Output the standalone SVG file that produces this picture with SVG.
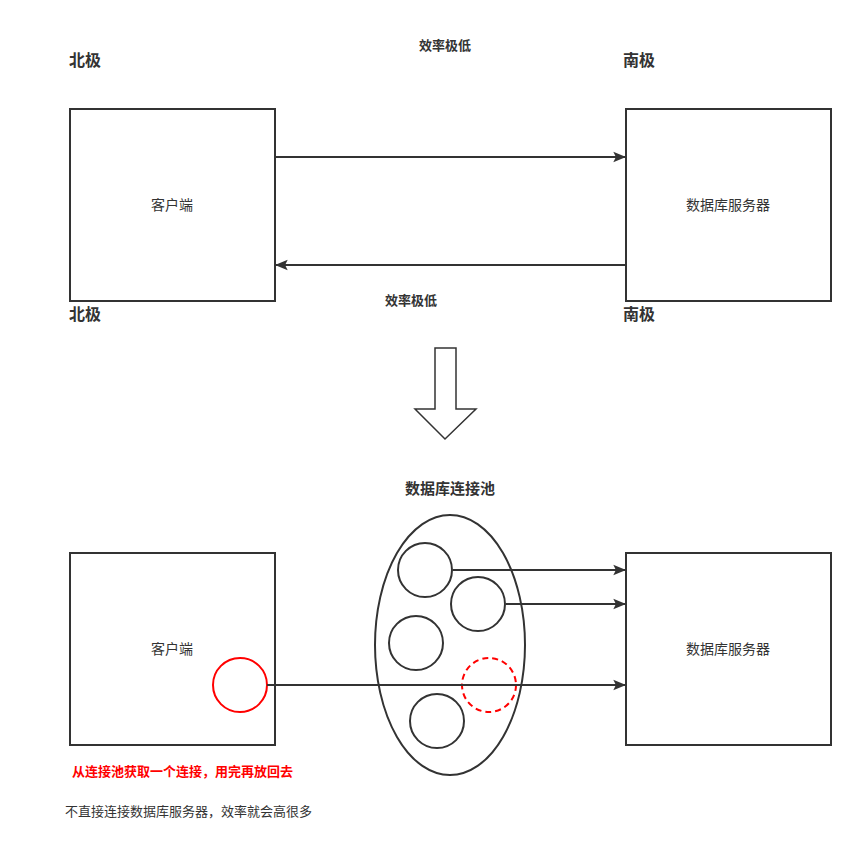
<svg xmlns="http://www.w3.org/2000/svg" width="856" height="866" viewBox="0 0 856 866">
<defs>
<style>
.box{fill:#fff;stroke:#333;stroke-width:2}
.ln{stroke:#333;stroke-width:2;fill:none}
text{font-family:"Noto Sans CJK SC","Liberation Sans",sans-serif;fill:#333}
.b{font-weight:bold}
</style>
<marker id="ah" viewBox="0 0 10 10" refX="9" refY="5" markerWidth="13" markerHeight="13" orient="auto" markerUnits="userSpaceOnUse"><path d="M0,1 L10,5 L0,9 L2,5 Z" fill="#333"/></marker>
</defs>
<rect width="856" height="866" fill="#fff"/>
<g id="labels">
<text x="69" y="66" font-size="16" class="b">北极</text>
<text x="623" y="66" font-size="16" class="b">南极</text>
<text x="69" y="320" font-size="16" class="b">北极</text>
<text x="623" y="320" font-size="16" class="b">南极</text>
<text x="445" y="50" font-size="13" class="b" text-anchor="middle">效率极低</text>
<text x="411" y="305" font-size="13" class="b" text-anchor="middle">效率极低</text>
<text x="450" y="494" font-size="15" class="b" text-anchor="middle">数据库连接池</text>
<text x="72" y="776" font-size="13" class="b" style="fill:#f00">从连接池获取一个连接，用完再放回去</text>
<text x="65" y="816" font-size="13">不直接连接数据库服务器，效率就会高很多</text>
</g>
<g id="client1"><rect class="box" x="70" y="109" width="205" height="192"/><text x="172" y="210" font-size="14" text-anchor="middle">客户端</text></g>
<g id="server1"><rect class="box" x="626" y="109" width="205" height="192"/><text x="728" y="210" font-size="14" text-anchor="middle">数据库服务器</text></g>
<g id="bigarrow"><path d="M435,348 H456 V409 H476 L445,439 L415,409 H435 Z" fill="#fff" stroke="#333" stroke-width="1.5"/></g>
<g id="client2"><rect class="box" x="70" y="553" width="205" height="192"/><text x="172" y="654" font-size="14" text-anchor="middle">客户端</text></g>
<g id="server2"><rect class="box" x="626" y="553" width="205" height="192"/><text x="728" y="654" font-size="14" text-anchor="middle">数据库服务器</text></g>
<g id="pool">
<ellipse class="ln" cx="450" cy="645" rx="75" ry="130"/>
<circle class="ln" cx="425" cy="570" r="27"/>
<circle class="ln" cx="478" cy="604" r="27"/>
<circle class="ln" cx="416" cy="643" r="27"/>
<circle class="ln" cx="437" cy="721" r="27"/>
<circle cx="489" cy="685" r="27" fill="none" stroke="#f00" stroke-width="2" stroke-dasharray="6,4"/>
</g>
<g id="conn"><circle cx="240" cy="685" r="27" fill="none" stroke="#f00" stroke-width="2"/></g>
<g id="connectors">
<line class="ln" x1="276" y1="157" x2="625" y2="157" marker-end="url(#ah)"/>
<line class="ln" x1="626" y1="265" x2="276" y2="265" marker-end="url(#ah)"/>
<line class="ln" x1="453" y1="570" x2="625" y2="570" marker-end="url(#ah)"/>
<line class="ln" x1="506" y1="604" x2="625" y2="604" marker-end="url(#ah)"/>
<line class="ln" x1="267" y1="685" x2="625" y2="685" marker-end="url(#ah)"/>
</g>
</svg>
